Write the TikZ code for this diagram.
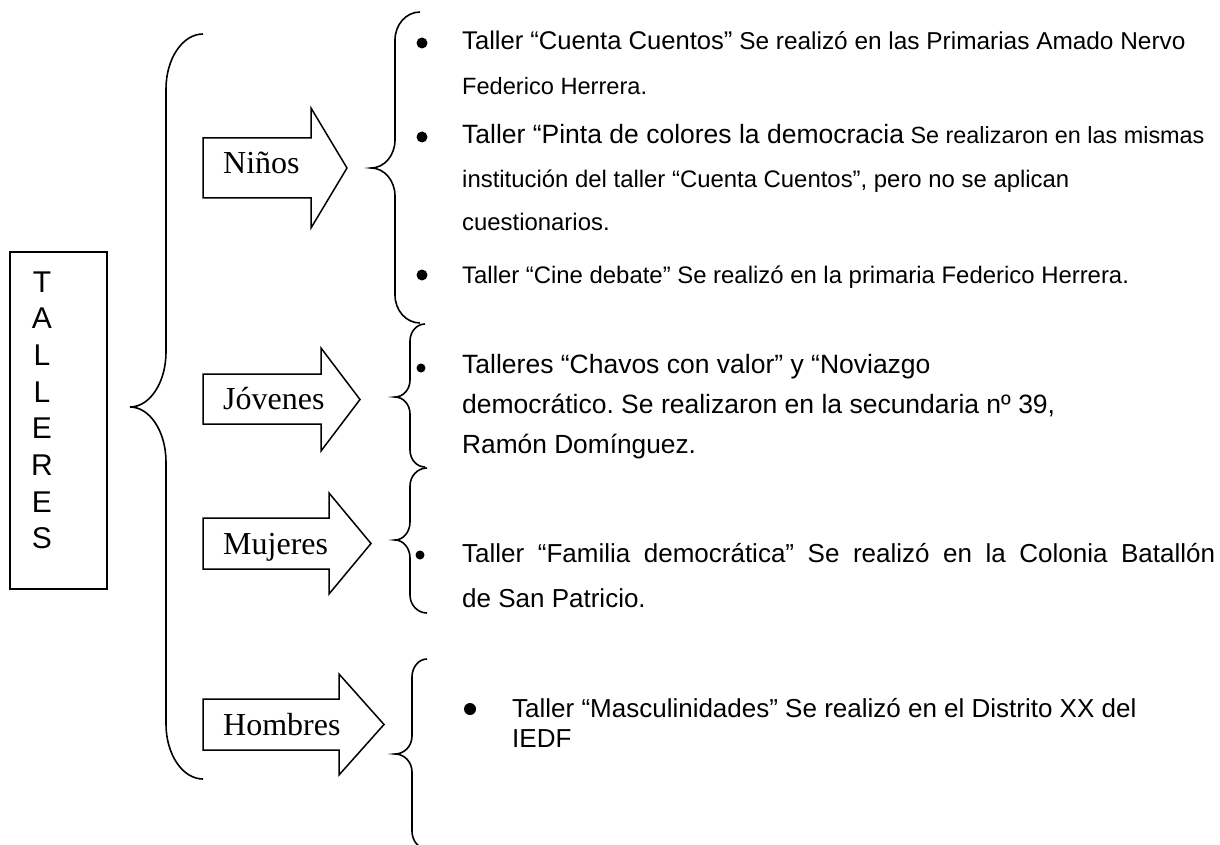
\documentclass[tikz,border=0pt]{standalone}
\usepackage{fontspec}
\setmainfont{Liberation Serif}
\newfontfamily\arialf{Liberation Sans}
\frenchspacing
\newcommand{\fsz}[1]{\fontsize{#1}{#1}\selectfont}
% #1 xend, #2 xline, #3 xtip, #4 ytop, #5 ytip, #6 ybot, #7 curve height
\newcommand{\drawbrace}[7]{%
  \draw[brc] (#1,#4) .. controls ({#1-0.552*(#1-#2)},#4) and (#2,{#4+0.448*#7}) .. (#2,{#4+#7})
    -- (#2,{#5-#7}) .. controls (#2,{#5-0.448*#7}) and ({#3+0.552*(#2-#3)},#5) .. (#3,#5)
    .. controls ({#3+0.552*(#2-#3)},#5) and (#2,{#5+0.448*#7}) .. (#2,{#5+#7})
    -- (#2,{#6-#7}) .. controls (#2,{#6-0.448*#7}) and ({#1-0.552*(#1-#2)},#6) .. (#1,#6);}
\begin{document}
\begin{tikzpicture}[x=1pt,y=-1pt,
  brc/.style={line width=1.6pt},
  arrowbox/.style={draw, line width=1.5pt, line join=miter},
  lbl/.style={anchor=base west, inner sep=0pt, font=\fsz{32}},
  txt/.style={anchor=base west, inner sep=0pt, font=\arialf\frenchspacing},
  letter/.style={anchor=base, inner sep=0pt, font=\arialf\fsz{30}},
  bul/.style={circle, fill, inner sep=0pt, minimum size=11pt}]
\useasboundingbox (0,0) rectangle (1220,845);
\clip (0,0) rectangle (1220,845);
\fill[white] (0,0) rectangle (1220,845);

% TALLERES box
\node[draw, line width=1.3pt, minimum width=97pt, minimum height=337pt, inner sep=0pt] (tbox) at (58.5,420.5) {};
\foreach \l [count=\i] in {T,A,L,L,E,R,E,S}
  \node[letter] (t\i) at (42,{292+(\i-1)*36.7}) {\l};

% main brace
\drawbrace{203}{166}{130}{34}{407}{779}{55}

% block arrows
\draw[arrowbox] (203,138) -- (311,138) -- (311,108) -- (347,168) -- (311,228) -- (311,198) -- (203,198) -- cycle;
\draw[arrowbox] (203,374) -- (321,374) -- (321,348) -- (360,399.5) -- (321,451) -- (321,424) -- (203,424) -- cycle;
\draw[arrowbox] (203,518) -- (329,518) -- (329,493) -- (371,543.5) -- (329,594) -- (329,569) -- (203,569) -- cycle;
\draw[arrowbox] (203,699) -- (339,699) -- (339,674) -- (384,724.5) -- (339,775) -- (339,750) -- (203,750) -- cycle;
\node[lbl] (nin) at (223,174) {Niños};
\node[lbl] (jov) at (223,409) {Jóvenes};
\node[lbl] (muj) at (223,554) {Mujeres};
\node[lbl] (hom) at (223,735) {Hombres};

% right braces
\drawbrace{420}{395}{371}{12}{168}{323}{28}
\drawbrace{425}{410}{395}{324}{397}{467}{17}
\drawbrace{427}{410}{395}{468}{540}{613}{18}
\drawbrace{427}{412}{395}{659}{754}{849}{18}

% Niños items
\node[bul] (bn1) at (422,43) {};
\node[bul] (bn2) at (422,137) {};
\node[bul] (bn3) at (422,275) {};
\node[txt] (n1) at (462,50) {\fsz{25.6}Taller “Cuenta Cuentos”\fsz{24.4} Se realizó en las Primarias Amado Nervo};
\node[txt] (n2) at (462,95) {\fsz{23.6}Federico Herrera.};
\node[txt] (n3) at (462,144) {\fsz{26.5}Taller “Pinta de colores la democracia\fsz{23.4} Se realizaron en las mismas};
\node[txt] (n4) at (462,188) {\fsz{23.9}institución del taller “Cuenta Cuentos”, pero no se aplican};
\node[txt] (n5) at (462,230) {\fsz{23.9}cuestionarios.};
\node[txt] (n6) at (462,283) {\fsz{23.9}Taller “Cine debate” Se realizó en la primaria Federico Herrera.};

% Jóvenes items
\node[bul, minimum size=9pt] (bj1) at (421,368) {};
\node[txt] (j1) at (462,373) {\fsz{26.5}Talleres “Chavos con valor” y “Noviazgo};
\node[txt] (j2) at (462,413) {\fsz{26.5}democrático. Se realizaron en la secundaria nº 39,};
\node[txt] (j3) at (462,453) {\fsz{26.3}Ramón Domínguez.};

% Mujeres items
\node[bul, minimum size=9pt] (bm1) at (420,555) {};
\node[txt] (m1) at (462,562) {\fsz{26}\makebox[753pt][s]{Taller “Familia democrática” Se realizó en la Colonia Batallón}};
\node[txt] (m2) at (462,607) {\fsz{26}de San Patricio.};

% Hombres items
\node[bul, minimum size=12pt] (bh1) at (470,709) {};
\node[txt] (h1) at (512,717) {\fsz{26}Taller “Masculinidades” Se realizó en el Distrito XX del};
\node[txt] (h2) at (512,747) {\fsz{26}IEDF};
\end{tikzpicture}
\end{document}
